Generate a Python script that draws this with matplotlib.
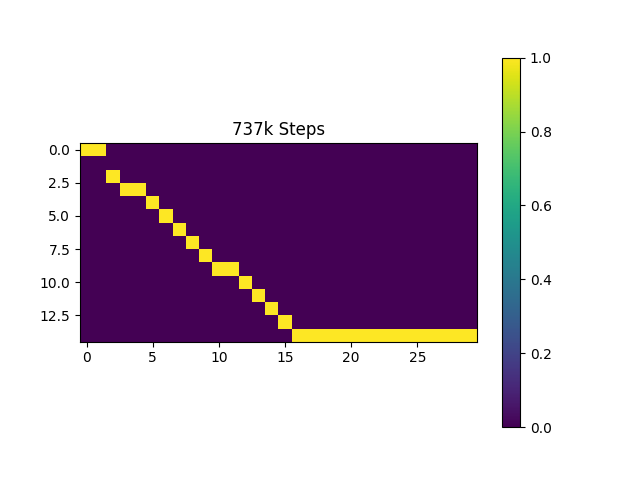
import numpy as np
import matplotlib
matplotlib.use("Agg")
import matplotlib.pyplot as plt

n_rows = 15
n_cols = 30
# for each row: list of active columns
active_cols = [
    [0, 1], [], [2], [3, 4], [5], [6], [7], [8], [9],
    [10, 11], [12], [13], [14], [15], list(range(16, 30)),
]

data = np.zeros([n_rows, n_cols])
for r, cols in enumerate(active_cols):
    for c in cols:
        data[r, c] = 1

fig = plt.figure(figsize=(6.4, 4.8), dpi=100)
im = plt.imshow(data, cmap="viridis", vmin=0, vmax=1)
plt.title("737k Steps")
plt.colorbar(im)
plt.savefig("out.png")
